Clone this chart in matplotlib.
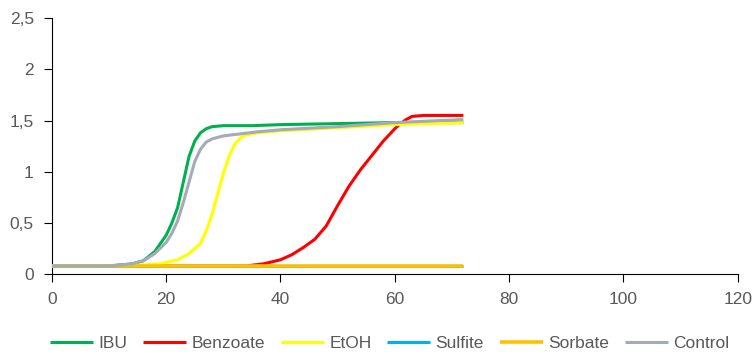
import matplotlib
matplotlib.use("Agg")
import matplotlib.pyplot as plt

# -----------------------------
# Data
# -----------------------------

ibu_x = [0, 10, 14, 16, 18, 19, 20, 21, 22, 23, 24, 25, 26, 27, 28, 30, 35, 40, 50, 60, 72]
ibu_y = [0.08, 0.08, 0.10, 0.13, 0.22, 0.30, 0.38, 0.50, 0.65, 0.90, 1.15, 1.30, 1.38, 1.42, 1.44, 1.45, 1.45, 1.46, 1.47, 1.48, 1.48]

benz_x = [0, 34, 37, 40, 42, 44, 46, 48, 50, 52, 54, 56, 58, 60, 61, 62, 63, 65, 72]
benz_y = [0.08, 0.08, 0.10, 0.14, 0.19, 0.26, 0.34, 0.47, 0.67, 0.86, 1.02, 1.16, 1.30, 1.42, 1.47, 1.51, 1.54, 1.55, 1.55]

etoh_x = [0, 10, 16, 19, 22, 24, 26, 27, 28, 29, 30, 31, 32, 33, 34, 36, 40, 50, 60, 72]
etoh_y = [0.08, 0.08, 0.09, 0.10, 0.14, 0.20, 0.30, 0.42, 0.58, 0.78, 0.98, 1.15, 1.27, 1.33, 1.36, 1.38, 1.40, 1.43, 1.46, 1.48]

sulf_x = [0, 72]
sulf_y = [0.08, 0.08]

sorb_x = [0, 72]
sorb_y = [0.08, 0.08]

ctrl_x = [0, 10, 14, 16, 18, 20, 21, 22, 23, 24, 25, 26, 27, 28, 30, 33, 36, 40, 50, 60, 72]
ctrl_y = [0.08, 0.08, 0.10, 0.13, 0.20, 0.31, 0.40, 0.52, 0.70, 0.90, 1.10, 1.22, 1.29, 1.32, 1.35, 1.37, 1.39, 1.41, 1.44, 1.48, 1.51]

series = [
    ("IBU", ibu_x, ibu_y, "#00B050"),
    ("Benzoate", benz_x, benz_y, "#FF0000"),
    ("EtOH", etoh_x, etoh_y, "#FFFF00"),
    ("Sulfite", sulf_x, sulf_y, "#00B0F0"),
    ("Sorbate", sorb_x, sorb_y, "#FFC000"),
    ("Control", ctrl_x, ctrl_y, "#A5AAB9"),
]

x_ticks = [0, 20, 40, 60, 80, 100, 120]
y_ticks = [0, 0.5, 1, 1.5, 2, 2.5]
y_labels = ["0", "0,5", "1", "1,5", "2", "2,5"]

# -----------------------------
# Plot
# -----------------------------

plt.rcParams["font.family"] = ["Liberation Sans", "DejaVu Sans"]

fig = plt.figure(figsize=(7.52, 3.56), dpi=100)
ax = fig.add_axes([0.069, 0.230, 0.912, 0.719])

for i, (name, xs, ys, col) in enumerate(series):
    lw = 2.6 if name == "Sorbate" else 2.2
    ax.plot(xs, ys, color=col, linewidth=lw, label=name, zorder=2 + i,
            solid_capstyle="butt")

ax.set_xlim(0, 120)
ax.set_ylim(0, 2.5)
ax.set_xticks(x_ticks)
ax.set_yticks(y_ticks)
ax.set_yticklabels(y_labels)

for side in ["top", "right"]:
    ax.spines[side].set_visible(False)
ax.spines["left"].set_color("black")
ax.spines["bottom"].set_color("black")

ax.tick_params(axis="both", direction="out", length=6, colors="black",
               labelcolor="#595959", labelsize=12.5)
ax.tick_params(axis="x", pad=7)
ax.tick_params(axis="y", pad=7)

fig.legend(loc="center", bbox_to_anchor=(0.518, 0.036), ncol=6, frameon=False,
           fontsize=12.5, labelcolor="#595959", handlelength=2.5,
           handletextpad=0.3, columnspacing=0.9, borderpad=0)

fig.savefig("out.png", dpi=100)
